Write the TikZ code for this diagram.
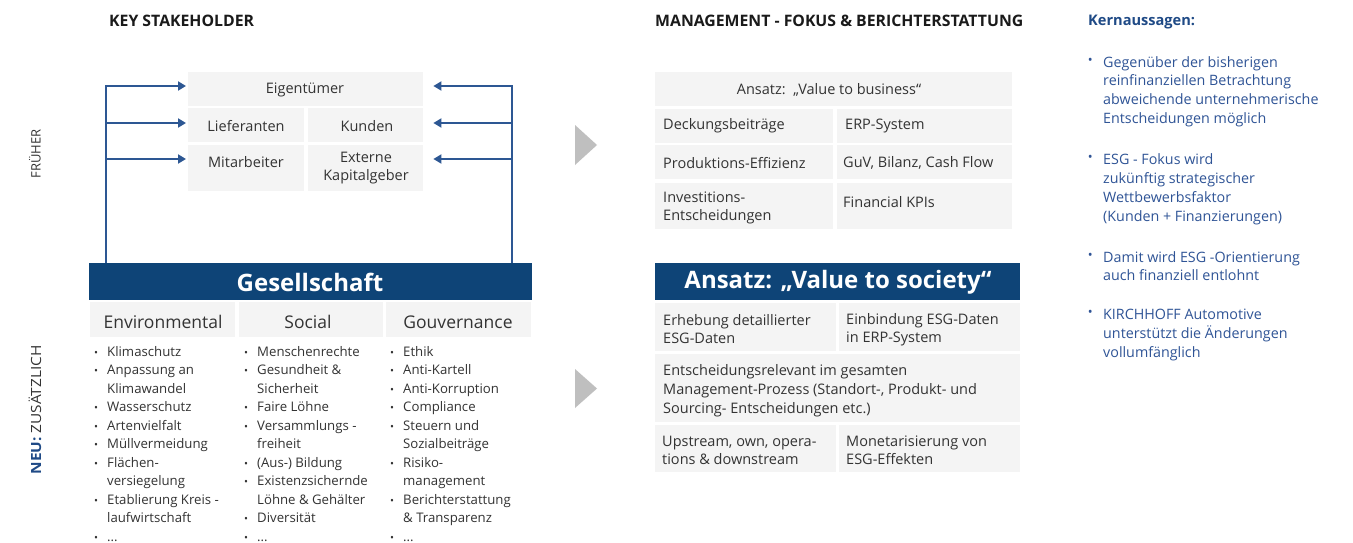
\documentclass[tikz,border=0pt]{standalone}
\usepackage{graphicx}
\usepackage{fontspec}
\setmainfont{Open Sans}
\usetikzlibrary{arrows.meta}
\definecolor{barblue}{HTML}{0E4477}
\definecolor{arrowblue}{HTML}{2D5793}
\definecolor{cellgrey}{HTML}{F4F4F4}
\definecolor{trigrey}{HTML}{BFBFBF}
\definecolor{txt}{HTML}{333333}
\definecolor{headtxt}{HTML}{1A1A1A}
\definecolor{kernblue}{HTML}{2F5496}
\definecolor{kernhead}{HTML}{1F4A86}
\newcommand\fs[2]{\fontsize{#1}{#2}\selectfont}
\newcommand\bul{\llap{\scalebox{0.8}{•}\hspace{9pt}}}
\newcommand\kbul{\llap{\raisebox{2.5pt}{\scalebox{0.9}{•}}\hspace{10.5pt}}}
\newcommand\tdots{...}
\newcommand\cellat[5]{\node[cellbg, minimum width={#4-#2}, minimum height={#5-#3}] (#1) at (#2,#3) {};}
\begin{document}
\begin{tikzpicture}[x=1pt,y=-1pt,
  cellbg/.style={fill=cellgrey, draw=none, inner sep=0pt, anchor=north west},
  lbl/.style={inner sep=0pt, text=txt, font=\fs{14.5}{18}},
  lbll/.style={lbl, align=left, anchor=west},
  esg/.style={inner sep=0pt, text=txt, font=\fs{13.2}{18}, anchor=base west},
  colhead/.style={inner sep=0pt, text=txt, font=\fs{17.5}{20}},
  head/.style={inner sep=0pt, text=headtxt, font=\bfseries\fs{15.8}{18}, anchor=west},
  barbg/.style={fill=barblue, draw=none, inner sep=0pt, anchor=north west, text=white, font=\bfseries\fs{24}{28}},
  kern/.style={inner sep=0pt, text=kernblue, font=\fs{14.3}{18}, anchor=base west},
  side/.style={inner sep=0pt, text=txt, rotate=90},
  conn/.style={draw=arrowblue, line width=1.8pt},
  arr/.style={conn, -{Triangle[length=8pt,width=9pt]}}]
\useasboundingbox (0,0) rectangle (1353,543);
\clip (0,0) rectangle (1353,543);
\fill[white] (0,0) rectangle (1353,543);

% headings
\node[head] (h1) at (109,21) {KEY STAKEHOLDER};
\node[head] (h2) at (655,21) {MANAGEMENT - FOKUS \& BERICHTERSTATTUNG};
\node[head, text=kernhead, font=\bfseries\fs{14.6}{18}] (h3) at (1088,22) {Kernaussagen:};

% side labels
\node[side, font=\fs{13}{16}] (fr) at (35,154) {FRÜHER};
\node[side, font=\fs{14}{16}] (neu) at (35,410) {\scalebox{1.1}[1]{\textcolor{kernhead}{\bfseries NEU:} ZUSÄTZLICH}};

% stakeholder cells
\cellat{eig}{188}{72}{423}{106}
\cellat{lief}{188}{108}{304}{142}
\cellat{kun}{308}{108}{423}{142}
\cellat{mit}{188}{145}{304}{191}
\cellat{ext}{308}{145}{423}{191}
\node[lbl] (teig) at (305,90) {Eigentümer};
\node[lbl] (tlief) at (246,126) {Lieferanten};
\node[lbl] (tkun) at (367,126) {Kunden};
\node[lbl] (tmit) at (246,162) {Mitarbeiter};
\node[lbl, align=center] (text) at (366,168) {Externe\\Kapitalgeber};

% Gesellschaft bar
\node[barbg, minimum width=443, minimum height=37] (ges) at (89,263) {};
\node[inner sep=0pt, text=white, font=\bfseries\fs{24}{28}] (tges) at (310,282.5) {Gesellschaft};

% ESG column headers
\cellat{env}{90}{302}{235}{337}
\cellat{soc}{239}{302}{383}{337}
\cellat{gov}{386}{302}{531}{337}
\node[colhead] (tenv) at (163,322) {Environmental};
\node[colhead] (tsoc) at (308,322) {Social};
\node[colhead] (tgov) at (458,322) {Gouvernance};

% connectors
\coordinate (L1) at (106,86);
\coordinate (L2) at (106,123);
\coordinate (L3) at (106,159);
\coordinate (R1) at (512,86);
\coordinate (R2) at (512,123);
\coordinate (R3) at (512,159);
\draw[arr, shorten >=2pt] (ges.north -| L1) -- (L1) -- (L1 -| eig.west);
\draw[arr, shorten >=2pt] (L2) -- (L2 -| lief.west);
\draw[arr, shorten >=2pt] (L3) -- (L3 -| mit.west);
\draw[arr, shorten >=10pt] (ges.north -| R1) -- (R1) -- (R1 -| eig.east);
\draw[arr, shorten >=10pt] (R2) -- (R2 -| kun.east);
\draw[arr, shorten >=10pt] (R3) -- (R3 -| ext.east);

% ESG lists
\foreach \t [count=\i from 0] in {{\bul Klimaschutz},{\bul Anpassung an},{Klimawandel},{\bul Wasserschutz},{\bul Artenvielfalt},{\bul Müllvermeidung},{\bul Flächen-},{versiegelung},{\bul Etablierung Kreis -},{laufwirtschaft},{\bul \tdots}}
  \node[esg] (le\i) at (107,356.5+\i*18.45) {\t};
\foreach \t [count=\i from 0] in {{\bul Menschenrechte},{\bul Gesundheit \&},{Sicherheit},{\bul Faire Löhne},{\bul Versammlungs -},{freiheit},{\bul (Aus-) Bildung},{\bul Existenzsichernde},{Löhne \& Gehälter},{\bul Diversität},{\bul \tdots}}
  \node[esg] (ls\i) at (257,356.5+\i*18.45) {\t};
\foreach \t [count=\i from 0] in {{\bul Ethik},{\bul Anti-Kartell},{\bul Anti-Korruption},{\bul Compliance},{\bul Steuern und},{Sozialbeiträge},{\bul Risiko-},{management},{\bul Berichterstattung},{\& Transparenz},{\bul \tdots}}
  \node[esg] (lg\i) at (403,356.5+\i*18.45) {\t};

% grey triangles
\fill[trigrey] (575,125) -- (597,145) -- (575,165) -- cycle;
\fill[trigrey] (575,369) -- (597,388.5) -- (575,408) -- cycle;

% value to business table
\cellat{vb}{655}{72}{1012}{106}
\cellat{deck}{655}{109}{833}{143}
\cellat{erp}{837}{109}{1012}{143}
\cellat{prod}{655}{145}{833}{179}
\cellat{guv}{837}{145}{1012}{179}
\cellat{inv}{655}{183}{833}{229}
\cellat{fin}{837}{183}{1012}{229}
\node[lbl] (tvb) at (829,90) {Ansatz:\ \ „Value to business“};
\node[lbll] (tdeck) at (663,126) {Deckungsbeiträge};
\node[lbll] (terp) at (845,126) {ERP-System};
\node[lbll] (tprod) at (663,163) {Produktions-Effizienz};
\node[lbll] (tguv) at (843,163) {GuV, Bilanz, Cash Flow};
\node[lbll] (tinv) at (663,208) {Investitions-\\Entscheidungen};
\node[lbll] (tfin) at (843,202) {Financial KPIs};

% value to society table
\node[barbg, minimum width=365, minimum height=37] (vs) at (655,263) {};
\node[inner sep=0pt, text=white, font=\bfseries\fs{24}{28}] (tvs) at (838,282.5) {Ansatz: „Value to society“};
\cellat{erh}{655}{303}{836}{351}
\cellat{einb}{839}{303}{1020}{351}
\cellat{ents}{655}{354}{1020}{422}
\cellat{up}{655}{425}{836}{472}
\cellat{mon}{839}{425}{1020}{472}
\node[lbll] (terh) at (663,329.5) {Erhebung detaillierter\\ESG-Daten};
\node[lbll] (teinb) at (846,329.5) {Einbindung ESG-Daten\\in ERP-System};
\node[lbll, font=\fs{14.5}{19}] (tents) at (663,391) {Entscheidungsrelevant im gesamten\\Management-Prozess (Standort-, Produkt- und\\Sourcing- Entscheidungen etc.)};
\node[lbll] (tup) at (662,450.5) {Upstream, own, opera-\\tions \& downstream};
\node[lbll] (tmon) at (846,450.5) {Monetarisierung von\\ESG-Effekten};

% Kernaussagen
\foreach \y/\t [count=\i] in {67/{\kbul Gegenüber der bisherigen},86/{reinfinanziellen Betrachtung},105/{abweichende unternehmerische},124/{Entscheidungen möglich},
  164/{\kbul ESG - Fokus wird},183/{zukünftig strategischer},202/{Wettbewerbsfaktor},221.5/{(Kunden + Finanzierungen)},
  262/{\kbul Damit wird ESG -Orientierung},280/{auch finanziell entlohnt},
  319/{\kbul KIRCHHOFF Automotive},338/{unterstützt die Änderungen},357.5/{vollumfänglich}}
  \node[kern] (k\i) at (1103,\y) {\t};
\end{tikzpicture}
\end{document}
